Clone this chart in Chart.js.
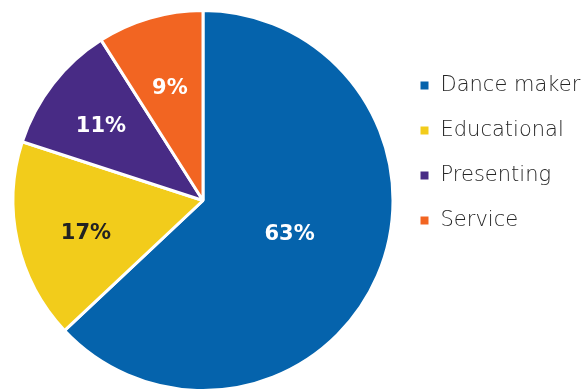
<!DOCTYPE html>
<html>
<head>
<meta charset="utf-8">
<script src="https://cdn.jsdelivr.net/npm/chart.js@4/dist/chart.umd.min.js"></script>
<style>
  html, body { margin: 0; padding: 0; background: #fff; }
  #wrap { width: 587px; height: 392px; position: relative; }
</style>
</head>
<body>
<div id="wrap"><canvas id="pieChart"></canvas></div>
<script>
const categories = ['Dance maker', 'Educational', 'Presenting', 'Service'];
const shares = [63, 17, 11, 9];
const sliceColors = ['#0563ac', '#f2cc1b', '#482b85', '#f26522'];
const labelColors = ['#ffffff', '#222222', '#ffffff', '#ffffff'];

// percentage text drawn inside each slice: radius fraction plus a small angle nudge (degrees)
const sliceLabels = {
  id: 'sliceLabels',
  afterDatasetsDraw(chart, args, opts) {
    const ctx = chart.ctx;
    const meta = chart.getDatasetMeta(0);
    ctx.save();
    ctx.font = 'bold 21px "DejaVu Sans", sans-serif';
    ctx.textAlign = 'center';
    ctx.textBaseline = 'alphabetic';
    meta.data.forEach((arc, i) => {
      const { x, y, startAngle, endAngle, outerRadius } = arc.getProps(['x', 'y', 'startAngle', 'endAngle', 'outerRadius'], true);
      const mid = (startAngle + endAngle) / 2 + opts.nudge[i] * Math.PI / 180;
      const r = outerRadius * opts.radius[i];
      ctx.fillStyle = labelColors[i];
      ctx.fillText(shares[i] + '%', x + Math.cos(mid) * r, y + Math.sin(mid) * r + 7.5);
    });
    ctx.restore();
  }
};

new Chart(document.getElementById('pieChart'), {
  type: 'pie',
  data: {
    labels: categories,
    datasets: [{
      data: shares,
      backgroundColor: sliceColors,
      borderColor: '#ffffff',
      borderWidth: 3
    }]
  },
  options: {
    responsive: true,
    maintainAspectRatio: false,
    animation: false,
    layout: { padding: { top: 9, bottom: 0, left: 11, right: 0 } },
    plugins: {
      tooltip: { enabled: false },
      sliceLabels: { radius: [0.485, 0.637, 0.67, 0.625], nudge: [-3.4, -2.2, -1.1, 0] },
      legend: {
        position: 'right',
        align: 'start',
        maxWidth: 192,
        // blank title only pushes the list down
        title: { display: true, text: ' ', font: { size: 10, lineHeight: 1 }, padding: { top: 0, bottom: 32 } },
        labels: {
          boxWidth: 11,
          boxHeight: 11,
          padding: 24,
          color: '#262626',
          font: { family: 'DejaVu Sans', size: 21, weight: 200 }
        }
      }
    }
  },
  plugins: [sliceLabels]
});
</script>
</body>
</html>
